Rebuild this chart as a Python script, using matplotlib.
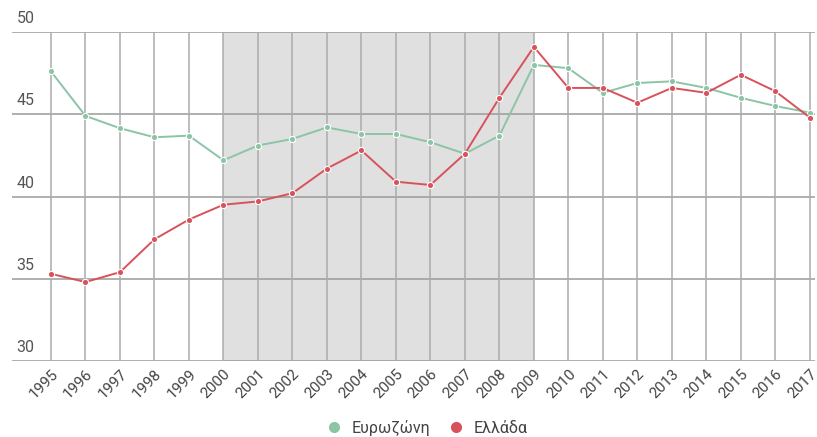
import matplotlib
matplotlib.use('Agg')
import matplotlib.pyplot as plt
from matplotlib.lines import Line2D

plt.rcParams['font.family'] = ['Roboto', 'DejaVu Sans']

# share of GDP, eurozone vs Greece
years = list(range(1995, 2018))
eurozone = [47.6, 44.9, 44.15, 43.6, 43.7, 42.2, 43.1, 43.5, 44.2, 43.8, 43.8, 43.3,
            42.6, 43.7, 48.0, 47.8, 46.3, 46.9, 47.0, 46.6, 46.0, 45.5, 45.1]
greece = [35.3, 34.8, 35.4, 37.4, 38.6, 39.5, 39.7, 40.2, 41.7, 42.8, 40.9, 40.7,
          42.6, 46.0, 49.1, 46.6, 46.6, 45.7, 46.6, 46.3, 47.4, 46.4, 44.8]
yticks = [30, 35, 40, 45, 50]
shade = (2000, 2009)

green = '#8cc4a6'
red = '#d8525b'

fig = plt.figure(figsize=(8.17, 4.37), dpi=100)
ax = fig.add_axes([12/817, 1-361/437, 803/817, 329/437])

ax.axvspan(shade[0], shade[1], color='#e0e0e0', zorder=0, lw=0)
for y in yticks:
    ax.axhline(y, color='#9a9a9a', lw=1.1, zorder=1)
    ax.text(1994.0, y + 0.35, str(y), fontsize=11.5, color='#555555', va='bottom', ha='left')
for x in years:
    ax.axvline(x, color='#ababab', lw=1.1, zorder=1)

ax.plot(years, eurozone, color=green, lw=1.4, marker='o', ms=4.5,
        mfc=green, mec='white', mew=0.8, zorder=3)
ax.plot(years, greece, color=red, lw=1.4, marker='o', ms=4.5,
        mfc=red, mec='white', mew=0.8, zorder=4)

ax.set_xlim(1993.87, 2017.15)
ax.set_ylim(30, 50)
ax.set_yticks([])
ax.set_xticks(years)
ax.set_xticklabels([str(y) for y in years], rotation=45, ha='right',
                   rotation_mode='anchor', fontsize=11, color='#444444')
ax.tick_params(axis='x', length=0, pad=4)
for s in ax.spines.values():
    s.set_visible(False)

handles = [Line2D([], [], ls='', marker='o', ms=7, color=green),
           Line2D([], [], ls='', marker='o', ms=7, color=red)]
fig.legend(handles, ['Ευρωζώνη', 'Ελλάδα'], loc='lower center', bbox_to_anchor=(0.518, -0.012),
           ncol=2, frameon=False, fontsize=11.5, handletextpad=0.1, columnspacing=0.6,
           labelcolor='#444444', borderaxespad=0.2, borderpad=0.2)

fig.savefig('out.png', dpi=100)
